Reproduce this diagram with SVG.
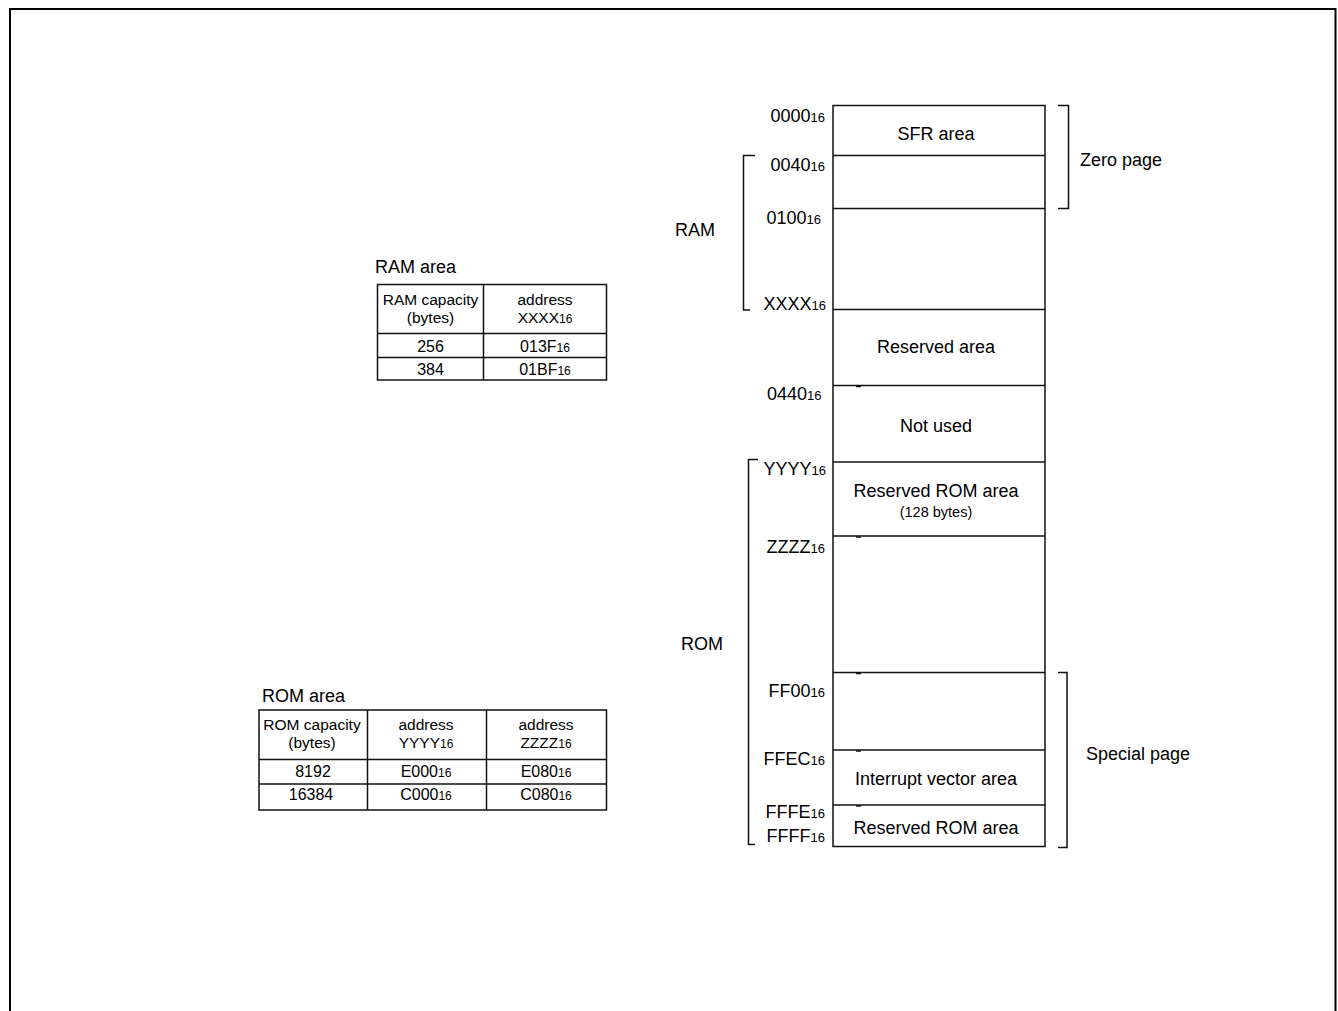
<svg xmlns="http://www.w3.org/2000/svg" width="1338" height="1011" viewBox="0 0 1338 1011">
<style>
text{font-family:"Liberation Sans",Arial,sans-serif;fill:#000}
.addr{font-size:18px;text-anchor:end}
.lbl{font-size:18px;text-anchor:middle}
.big{font-size:18px}
.sub{font-size:13px}
.tsub{font-size:12px}
.tb{font-size:16px;text-anchor:middle}
.box{fill:none;stroke:#111;stroke-width:1.5}
.ln{fill:none;stroke:#111;stroke-width:1.5}
.tick{stroke:#111;stroke-width:1.5}
</style>
<rect width="1338" height="1011" fill="#fff"/>
<path d="M10,1011 V9 H1335.5 V1011" fill="none" stroke="#000" stroke-width="2"/>

<g id="memory-map">
  <rect class="box" x="833" y="105.5" width="212" height="741"/>
  <g class="ln">
    <line x1="833" y1="155.5" x2="1045" y2="155.5"/>
    <line x1="833" y1="208.5" x2="1045" y2="208.5"/>
    <line x1="833" y1="309.5" x2="1045" y2="309.5"/>
    <line x1="833" y1="385.5" x2="1045" y2="385.5"/>
    <line x1="833" y1="462" x2="1045" y2="462"/>
    <line x1="833" y1="536" x2="1045" y2="536"/>
    <line x1="833" y1="672.5" x2="1045" y2="672.5"/>
    <line x1="833" y1="750" x2="1045" y2="750"/>
    <line x1="833" y1="805" x2="1045" y2="805"/>
  </g>
  <g class="tick">
    <line x1="856" y1="386.5" x2="861" y2="386.5"/>
    <line x1="856" y1="537" x2="861" y2="537"/>
    <line x1="856" y1="673.5" x2="861" y2="673.5"/>
    <line x1="856" y1="751" x2="861" y2="751"/>
    <line x1="856" y1="806" x2="861" y2="806"/>
  </g>
</g>

<g id="area-labels">
  <text class="lbl" x="936" y="140">SFR area</text>
  <text class="lbl" x="936" y="353">Reserved area</text>
  <text class="lbl" x="936" y="432">Not used</text>
  <text class="lbl" x="936" y="497">Reserved ROM area</text>
  <text class="lbl" x="936" y="517" style="font-size:14.5px">(128 bytes)</text>
  <text class="lbl" x="936" y="785">Interrupt vector area</text>
  <text class="lbl" x="936" y="834">Reserved ROM area</text>
</g>

<g id="addresses">
  <text class="addr" x="825" y="122">0000<tspan class="sub">16</tspan></text>
  <text class="addr" x="825" y="171">0040<tspan class="sub">16</tspan></text>
  <text class="addr" x="821" y="224">0100<tspan class="sub">16</tspan></text>
  <text class="addr" x="826" y="310">XXXX<tspan class="sub">16</tspan></text>
  <text class="addr" x="821.5" y="400">0440<tspan class="sub">16</tspan></text>
  <text class="addr" x="826" y="475">YYYY<tspan class="sub">16</tspan></text>
  <text class="addr" x="825" y="553">ZZZZ<tspan class="sub">16</tspan></text>
  <text class="addr" x="825" y="697">FF00<tspan class="sub">16</tspan></text>
  <text class="addr" x="825" y="765">FFEC<tspan class="sub">16</tspan></text>
  <text class="addr" x="825" y="818">FFFE<tspan class="sub">16</tspan></text>
  <text class="addr" x="825" y="842">FFFF<tspan class="sub">16</tspan></text>
</g>

<g id="brackets" class="ln">
  <path d="M755,155.5 H743.5 V310 H750"/>
  <path d="M758,459.5 H748.5 V844.5 H755"/>
  <path d="M1058,105.5 H1068.5 V208.5 H1058"/>
  <path d="M1058,672.5 H1067 V847.5 H1058"/>
</g>

<g id="bracket-labels">
  <text class="big" x="675" y="236">RAM</text>
  <text class="big" x="681" y="650">ROM</text>
  <text class="big" x="1080" y="166">Zero page</text>
  <text class="big" x="1086" y="760">Special page</text>
</g>

<g id="ram-table">
  <text class="big" x="375" y="273">RAM area</text>
  <rect class="box" x="377.5" y="284.5" width="229" height="95.5"/>
  <g class="ln">
    <line x1="483.5" y1="284.5" x2="483.5" y2="380"/>
    <line x1="377.5" y1="333.5" x2="606.5" y2="333.5"/>
    <line x1="377.5" y1="357.5" x2="606.5" y2="357.5"/>
  </g>
  <text class="tb" x="430.5" y="305" style="font-size:15.5px">RAM capacity</text>
  <text class="tb" x="430.5" y="322.5" style="font-size:15.5px">(bytes)</text>
  <text class="tb" x="545" y="305" style="font-size:15.5px">address</text>
  <text class="tb" x="545" y="322.5" style="font-size:15.5px">XXXX<tspan class="tsub">16</tspan></text>
  <text class="tb" x="430.5" y="351.5">256</text>
  <text class="tb" x="430.5" y="375">384</text>
  <text class="tb" x="545" y="351.5">013F<tspan class="tsub">16</tspan></text>
  <text class="tb" x="545" y="375">01BF<tspan class="tsub">16</tspan></text>
</g>

<g id="rom-table">
  <text class="big" x="262" y="701.5">ROM area</text>
  <rect class="box" x="259" y="710" width="347.5" height="100"/>
  <g class="ln">
    <line x1="367.5" y1="710" x2="367.5" y2="810"/>
    <line x1="486.5" y1="710" x2="486.5" y2="810"/>
    <line x1="259" y1="759.5" x2="606.5" y2="759.5"/>
    <line x1="259" y1="784" x2="606.5" y2="784"/>
  </g>
  <text class="tb" x="312" y="730" style="font-size:15.5px">ROM capacity</text>
  <text class="tb" x="312" y="748" style="font-size:15.5px">(bytes)</text>
  <text class="tb" x="426" y="730" style="font-size:15.5px">address</text>
  <text class="tb" x="426" y="748" style="font-size:15.5px">YYYY<tspan class="tsub">16</tspan></text>
  <text class="tb" x="546" y="730" style="font-size:15.5px">address</text>
  <text class="tb" x="546" y="748" style="font-size:15.5px">ZZZZ<tspan class="tsub">16</tspan></text>
  <text class="tb" x="313" y="776.5">8192</text>
  <text class="tb" x="311" y="800">16384</text>
  <text class="tb" x="426" y="776.5">E000<tspan class="tsub">16</tspan></text>
  <text class="tb" x="426" y="800">C000<tspan class="tsub">16</tspan></text>
  <text class="tb" x="546" y="776.5">E080<tspan class="tsub">16</tspan></text>
  <text class="tb" x="546" y="800">C080<tspan class="tsub">16</tspan></text>
</g>
</svg>
